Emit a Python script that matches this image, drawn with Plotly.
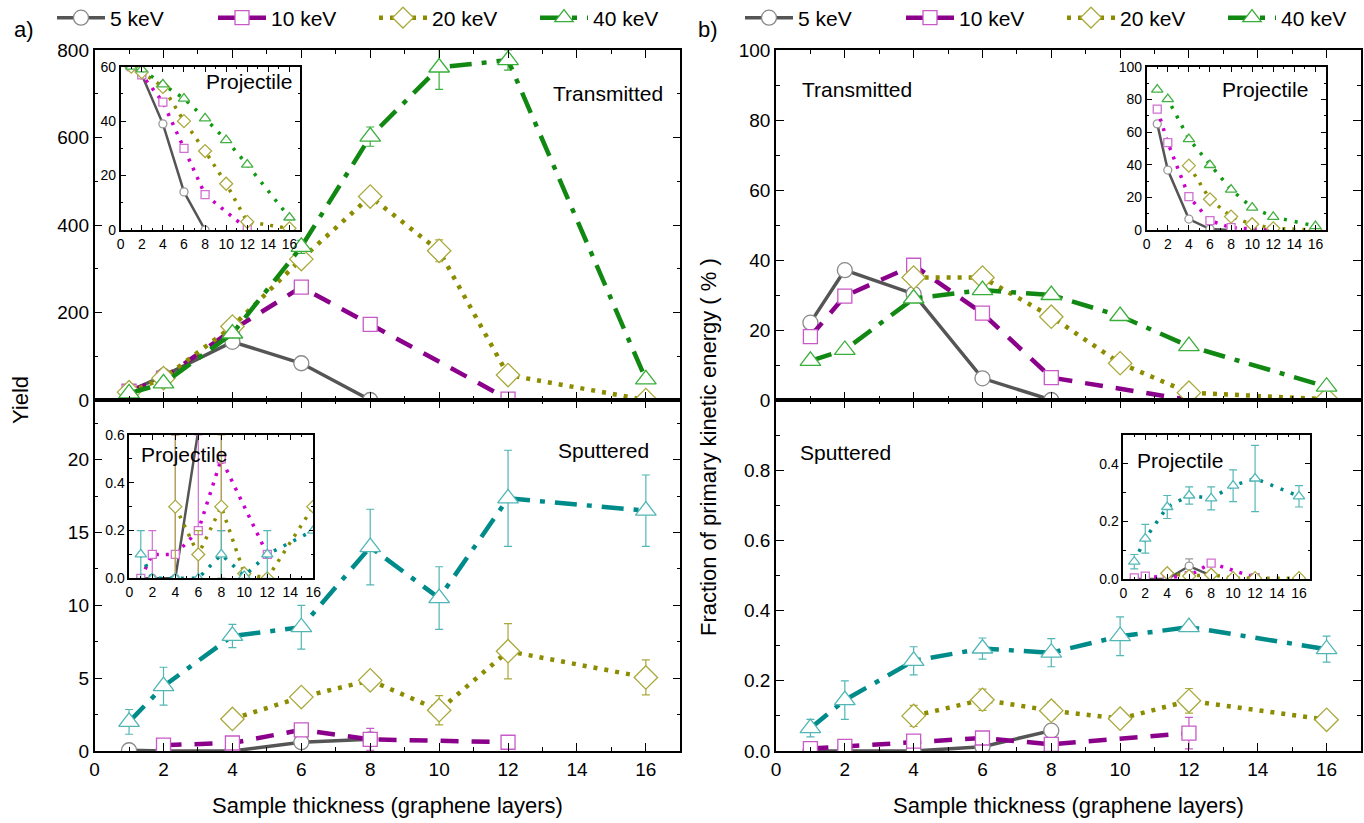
import plotly.graph_objects as go

W, H = 1364, 823
FONT = "Liberation Sans, Arial, sans-serif"

# ---------------- data ----------------
# Panel a) Yield - Transmitted (main)
ta_x5, ta_y5 = [1, 2, 4, 6, 8], [20, 55, 133, 84, 0]
ta_x10, ta_y10 = [1, 2, 4, 6, 8, 12], [20, 50, 160, 258, 173, 2]
ta_x20, ta_y20 = [1, 2, 4, 6, 8, 10, 12, 16], [18, 50, 168, 322, 465, 341, 57, 0]
ta_e20 = [0, 0, 0, 0, 0, 25, 19, 0]
ta_x40, ta_y40 = [1, 2, 4, 6, 8, 10, 12, 16], [15, 38, 152, 350, 602, 760, 777, 47]
ta_e40 = [0, 0, 0, 15, 22, 50, 23, 0]

# Panel a) Yield - Transmitted inset (projectile)
tai_x5, tai_y5 = [1, 2, 4, 6, 8], [60, 57, 39, 14, 0]
tai_x10, tai_y10 = [1, 2, 4, 6, 8, 12], [60, 57, 47, 30, 13, 0.4]
tai_x20, tai_y20 = [1, 2, 4, 6, 8, 10, 12, 16], [60, 58, 52.6, 40, 29, 17, 3, 0.6]
tai_x40, tai_y40 = [1, 2, 4, 6, 8, 10, 12, 16], [60, 59, 53.5, 48.3, 41, 33, 24, 4.6]

# Panel a) Yield - Sputtered (main)
sa_x5, sa_y5 = [1, 2, 4, 6, 8], [0.05, 0, 0, 0.6, 0.8]
sa_x10, sa_y10 = [2, 4, 6, 8, 12], [0.4, 0.55, 1.45, 0.8, 0.6]
sa_e10 = [0, 0, 0, 0.75, 0]
sa_x20, sa_y20 = [4, 6, 8, 10, 12, 16], [2.2, 3.7, 4.85, 2.8, 6.85, 5.05]
sa_e20 = [0.2, 0.5, 0.3, 1.0, 1.9, 1.2]
sa_x40, sa_y40 = [1, 2, 4, 6, 8, 10, 12, 16], [2.0, 4.45, 7.9, 8.5, 14.0, 10.5, 17.35, 16.5]
sa_e40 = [0.85, 1.3, 0.8, 1.5, 2.6, 2.15, 3.3, 2.45]

# Panel a) Yield - Sputtered inset (projectile)
sai_x5, sai_y5 = [1, 2, 4, 6, 8], [0, 0, 0, 0.62, 0.8]
sai_x10, sai_y10 = [1, 2, 4, 6, 8, 12], [0, 0.1, 0.1, 0.2, 0.5, 0.1]
sai_e10 = [0, 0.1, 0.5, 0.4, 0.3, 0]
sai_x20, sai_y20 = [4, 6, 8, 10, 12, 16], [0.3, 0.1, 0.3, 0.02, 0, 0.3]
sai_e20 = [0.3, 0.1, 0.3, 0, 0, 0]
sai_x40, sai_y40 = [1, 2, 4, 6, 8, 10, 12, 16], [0.1, 0, 0, 0, 0.1, 0.01, 0.1, 0.2]
sai_e40 = [0.1, 0, 0, 0, 0.1, 0, 0.1, 0]

# Panel b) Fraction of energy - Transmitted (main)
tb_x5, tb_y5 = [1, 2, 4, 6, 8], [22.1, 37.1, 30.3, 6.2, 0]
tb_x10, tb_y10 = [1, 2, 4, 6, 8, 12], [18.1, 29.7, 38.5, 24.8, 6.4, 0]
tb_x20, tb_y20 = [4, 6, 8, 10, 12, 16], [35, 35, 23.8, 10.5, 2.1, 0.2]
tb_x40, tb_y40 = [1, 2, 4, 6, 8, 10, 12, 16], [11.2, 14.3, 29, 31.4, 30, 24, 15.4, 3.8]

# Panel b) Transmitted inset (projectile)
tbi_x5, tbi_y5 = [1, 2, 4, 6, 8], [65, 36.7, 6.7, 0.6, 0]
tbi_x10, tbi_y10 = [1, 2, 4, 6, 8, 12], [74, 53.5, 20.4, 5.7, 1.4, 0]
tbi_x20, tbi_y20 = [4, 6, 8, 10, 12, 16], [39.4, 18.8, 8.2, 3.5, 1, 0]
tbi_x40, tbi_y40 = [1, 2, 4, 6, 8, 10, 12, 16], [86, 80.2, 55.7, 39.8, 24.7, 13.7, 8, 2.4]

# Panel b) Sputtered (main)
sb_x5, sb_y5 = [1, 2, 4, 6, 8], [0, 0, 0, 0.012, 0.058]
sb_x10, sb_y10 = [1, 2, 4, 6, 8, 12], [0.007, 0.013, 0.028, 0.037, 0.019, 0.051]
sb_e10 = [0, 0, 0, 0, 0, 0.045]
sb_x20, sb_y20 = [4, 6, 8, 10, 12, 16], [0.10, 0.146, 0.115, 0.092, 0.143, 0.089]
sb_e20 = [0.03, 0.03, 0.025, 0.01, 0.035, 0.02]
sb_x40, sb_y40 = [1, 2, 4, 6, 8, 10, 12, 16], [0.065, 0.145, 0.257, 0.292, 0.28, 0.327, 0.353, 0.29]
sb_e40 = [0.025, 0.055, 0.04, 0.03, 0.04, 0.055, 0.01, 0.037]

# Panel b) Sputtered inset (projectile)
sbi_x5, sbi_y5 = [1, 2, 4, 6, 8], [0, 0, 0, 0.045, 0.012]
sbi_e5 = [0, 0, 0, 0.025, 0]
sbi_x10, sbi_y10 = [1, 2, 4, 6, 8, 12], [0.004, 0.01, 0.005, 0.012, 0.055, 0.005]
sbi_x20, sbi_y20 = [4, 6, 8, 10, 12, 16], [0.02, 0.01, 0.015, 0.003, 0.003, 0.003]
sbi_x40, sbi_y40 = [1, 2, 4, 6, 8, 10, 12, 16], [0.06, 0.14, 0.25, 0.29, 0.28, 0.324, 0.349, 0.287]
sbi_e40 = [0.025, 0.05, 0.04, 0.03, 0.04, 0.055, 0.115, 0.037]

names = ["5 keV", "10 keV", "20 keV", "40 keV"]

# ---------------- styles ----------------
MAIN = {
    "5": dict(lc="#555555", dash="solid", lw=3.5, sym="circle", mc="#8a8a8a", ms=15),
    "10": dict(lc="#8b008b", dash="18px,13px", lw=4.5, sym="square", mc="#c75ac7", ms=14),
    "20": dict(lc="#8c8c00", dash="4px,7px", lw=4.5, sym="diamond", mc="#a9a93c", ms=18),
    "40": dict(lc="#118811", dash="22px,10px,5px,10px", lw=4.5, sym="triangle-up", mc="#3aae3a", ms=18),
    "40s": dict(lc="#008b8b", dash="22px,10px,5px,10px", lw=4.5, sym="triangle-up", mc="#52b6b6", ms=18),
}
INSET = {
    "5": dict(lc="#555555", dash="solid", lw=2.5, sym="circle", mc="#9a9a9a", ms=8),
    "10": dict(lc="#cc00cc", dash="3px,7px", lw=3.5, sym="square", mc="#d070d0", ms=8),
    "20": dict(lc="#8c8c00", dash="3px,7px", lw=3.5, sym="diamond", mc="#aaaa40", ms=10),
    "40": dict(lc="#119911", dash="3px,8px", lw=3.5, sym="triangle-up", mc="#44b044", ms=10),
    "40s": dict(lc="#008b8b", dash="3px,8px", lw=3.5, sym="triangle-up", mc="#55b8b8", ms=10),
}

fig = go.Figure()


def add(ax, x, y, st, name, err=None, legend=None):
    tr = go.Scatter(
        x=x, y=y, name=name, mode="lines+markers",
        xaxis="x" + ("" if ax == 1 else str(ax)), yaxis="y" + ("" if ax == 1 else str(ax)),
        line=dict(color=st["lc"], dash=st["dash"], width=st["lw"]),
        marker=dict(symbol=st["sym"], size=st["ms"], color="white",
                    line=dict(color=st["mc"], width=1.3)),
        showlegend=legend is not None, cliponaxis=True,
    )
    if legend is not None:
        tr.legend = legend
    if err is not None:
        tr.error_y = dict(type="data", array=err, color=st["mc"], thickness=1.2, width=4)
    fig.add_trace(tr)


# Panel a) transmitted
add(1, ta_x5, ta_y5, MAIN["5"], names[0], legend="legend")
add(1, ta_x10, ta_y10, MAIN["10"], names[1], legend="legend")
add(1, ta_x20, ta_y20, MAIN["20"], names[2], err=ta_e20, legend="legend")
add(1, ta_x40, ta_y40, MAIN["40"], names[3], err=ta_e40, legend="legend")
# Panel a) sputtered
add(2, sa_x5, sa_y5, MAIN["5"], names[0])
add(2, sa_x10, sa_y10, MAIN["10"], names[1], err=sa_e10)
add(2, sa_x20, sa_y20, MAIN["20"], names[2], err=sa_e20)
add(2, sa_x40, sa_y40, MAIN["40s"], names[3], err=sa_e40)
# Panel b) transmitted
add(3, tb_x5, tb_y5, MAIN["5"], names[0], legend="legend2")
add(3, tb_x10, tb_y10, MAIN["10"], names[1], legend="legend2")
add(3, tb_x20, tb_y20, MAIN["20"], names[2], legend="legend2")
add(3, tb_x40, tb_y40, MAIN["40"], names[3], legend="legend2")
# Panel b) sputtered
add(4, sb_x5, sb_y5, MAIN["5"], names[0])
add(4, sb_x10, sb_y10, MAIN["10"], names[1], err=sb_e10)
add(4, sb_x20, sb_y20, MAIN["20"], names[2], err=sb_e20)
add(4, sb_x40, sb_y40, MAIN["40s"], names[3], err=sb_e40)
# Insets
add(5, tai_x5, tai_y5, INSET["5"], names[0])
add(5, tai_x10, tai_y10, INSET["10"], names[1])
add(5, tai_x20, tai_y20, INSET["20"], names[2])
add(5, tai_x40, tai_y40, INSET["40"], names[3])
add(6, sai_x5, sai_y5, INSET["5"], names[0])
add(6, sai_x10, sai_y10, INSET["10"], names[1], err=sai_e10)
add(6, sai_x20, sai_y20, INSET["20"], names[2], err=sai_e20)
add(6, sai_x40, sai_y40, INSET["40s"], names[3], err=sai_e40)
add(7, tbi_x5, tbi_y5, INSET["5"], names[0])
add(7, tbi_x10, tbi_y10, INSET["10"], names[1])
add(7, tbi_x20, tbi_y20, INSET["20"], names[2])
add(7, tbi_x40, tbi_y40, INSET["40"], names[3])
add(8, sbi_x5, sbi_y5, INSET["5"], names[0], err=sbi_e5)
add(8, sbi_x10, sbi_y10, INSET["10"], names[1])
add(8, sbi_x20, sbi_y20, INSET["20"], names[2])
add(8, sbi_x40, sbi_y40, INSET["40s"], names[3], err=sbi_e40)


# ---------------- axes ----------------
def px_x(a, b):
    return [a / W, b / W]


def px_y(top, bottom):
    return [1 - bottom / H, 1 - top / H]


def axis(domain, rng, dtick=None, minor=None, labels=True, size=19, tl=8, tickvals=None, fmt=None, anchor=None):
    d = dict(domain=domain, range=rng, showline=True, linecolor="black", linewidth=1.6,
             mirror="ticks", ticks="inside", ticklen=tl, tickwidth=1.4, tickcolor="black",
             showgrid=False, zeroline=False, showticklabels=labels,
             tickfont=dict(size=size, color="black", family=FONT), anchor=anchor)
    if tickvals is not None:
        d["tickvals"] = tickvals
    else:
        d["dtick"] = dtick
        d["tick0"] = 0
    if fmt:
        d["tickformat"] = fmt
    if minor:
        d["minor"] = dict(dtick=minor, tick0=0, ticks="inside", ticklen=tl / 2, tickwidth=1.2,
                          tickcolor="black", showgrid=False)
    return d


LX = px_x(94.6, 680.3)
RX = px_x(776, 1361)
TY = px_y(50, 400)
BY = px_y(400, 751)

fig.update_layout(
    xaxis=axis(LX, [0, 17], 2, 1, labels=False, anchor="y"),
    yaxis=axis(TY, [0, 800], 200, 100, anchor="x"),
    xaxis2=axis(LX, [0, 17], 2, 1, anchor="y2"),
    yaxis2=axis(BY, [0, 24.1], tickvals=[0, 5, 10, 15, 20], minor=2.5, anchor="x2"),
    xaxis3=axis(RX, [0, 17], 2, 1, labels=False, anchor="y3"),
    yaxis3=axis(TY, [0, 100], 20, 10, anchor="x3"),
    xaxis4=axis(RX, [0, 17], 2, 1, anchor="y4"),
    yaxis4=axis(BY, [0, 1.0], tickvals=[0, 0.2, 0.4, 0.6, 0.8], fmt=".1f", minor=0.1, anchor="x4"),
    xaxis5=axis(px_x(120.7, 300), [0, 17], 2, 1, size=14, tl=5, anchor="y5"),
    yaxis5=axis(px_y(66.7, 230), [0, 60], 20, 10, size=14, tl=5, anchor="x5"),
    xaxis6=axis(px_x(129.3, 313.3), [0, 16], 2, 1, size=14, tl=5, anchor="y6"),
    yaxis6=axis(px_y(435, 578.3), [0, 0.6], 0.2, 0.1, size=14, tl=5, fmt=".1f", anchor="x6"),
    xaxis7=axis(px_x(1146.7, 1326), [0, 17], 2, 1, size=14, tl=5, anchor="y7"),
    yaxis7=axis(px_y(66.7, 230), [0, 100], 20, 10, size=14, tl=5, anchor="x7"),
    xaxis8=axis(px_x(1123.3, 1310), [0, 17], 2, 1, size=14, tl=5, anchor="y8"),
    yaxis8=axis(px_y(435, 579), [0, 0.5], 0.2, 0.1, size=14, tl=5, fmt=".1f", anchor="x8"),
)


def ann(text, x, y, size=21, xanchor="center", angle=0):
    fig.add_annotation(text=text, x=x / W, y=1 - y / H, xref="paper", yref="paper",
                       showarrow=False, xanchor=xanchor, yanchor="middle", textangle=angle,
                       font=dict(size=size, color="black", family=FONT))


ann("a)", 24, 29, 22)
ann("b)", 708, 29, 22)
ann("Yield", 20, 400, 22, angle=-90)
ann("Fraction of primary kinetic energy ( % )", 708, 447, 22, angle=-90)
ann("Sample thickness (graphene layers)", 387, 805, 22)
ann("Sample thickness (graphene layers)", 1068, 805, 22)
ann("Transmitted", 665, 93, 21, xanchor="right")
ann("Sputtered", 651, 450, 21, xanchor="right")
ann("Transmitted", 800, 90, 21, xanchor="left")
ann("Sputtered", 798, 452, 21, xanchor="left")
ann("Projectile", 294, 81, 21, xanchor="right")
ann("Projectile", 139, 455, 21, xanchor="left")
ann("Projectile", 1310, 90, 21, xanchor="right")
ann("Projectile", 1135, 461, 21, xanchor="left")

leg = dict(orientation="h", xanchor="left", yanchor="middle", bgcolor="rgba(0,0,0,0)",
           font=dict(size=21, color="black", family=FONT), entrywidth=98, itemwidth=48,
           tracegroupgap=0)
fig.update_layout(
    width=W, height=H, margin=dict(l=0, r=0, t=0, b=0, pad=0, autoexpand=False),
    paper_bgcolor="white", plot_bgcolor="white",
    font=dict(family=FONT, color="black"),
    legend=dict(leg, x=52 / W, y=1 - 18 / H),
    legend2=dict(leg, x=740 / W, y=1 - 18 / H),
)

fig.write_html("out.html")
